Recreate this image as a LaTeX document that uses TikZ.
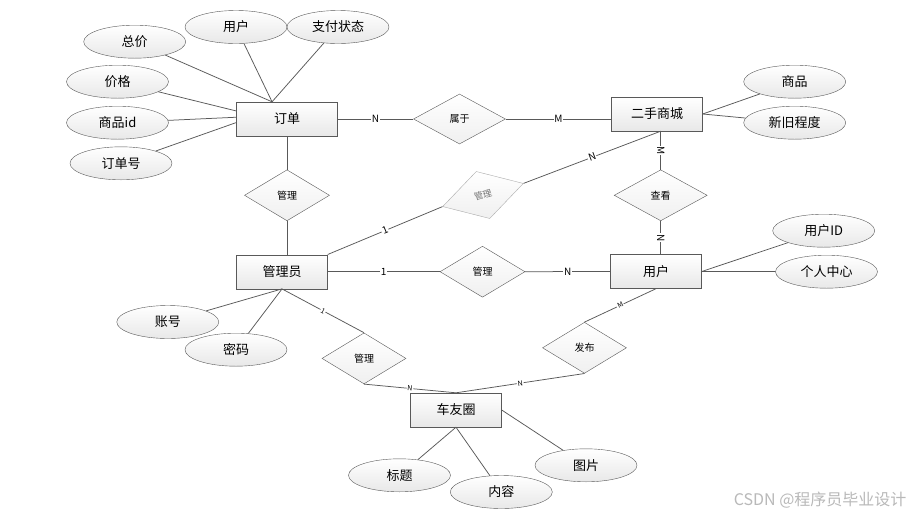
\documentclass[tikz,border=0pt]{standalone}
\usepackage{fontspec}
\setmainfont{Noto Sans CJK SC}
\usetikzlibrary{shapes.geometric}

\begin{document}
\begin{tikzpicture}[x=1pt, y=-1pt,
  entity/.style={draw=black!65, top color=white, bottom color=gray!18, minimum width=91pt, minimum height=34pt, inner sep=0pt, font=\fontsize{13}{15}\selectfont},
  attr/.style={ellipse, draw=black!65, top color=white, bottom color=gray!18, minimum width=102pt, minimum height=33pt, inner sep=0pt, font=\fontsize{13}{15}\selectfont},
  rel/.style={diamond, draw=black!65, top color=white, bottom color=gray!12, minimum width=85pt, minimum height=51pt, inner sep=0pt, font=\fontsize{10}{12}\selectfont},
  link/.style={draw=black!65, line width=0.75pt},
  card/.style={fill=white, inner sep=0.8pt, font=\fontsize{10}{12}\selectfont},
  scard/.style={card, font=\fontsize{7}{8}\selectfont},
]
\useasboundingbox[fill=white] (0,0) rectangle (914,515);

\node[entity, minimum width=101pt] (dd) at (287,119) {订单};
\node[entity] (es) at (657,114) {二手商城};
\node[entity] (yh) at (656,271.5) {用户};
\node[entity] (gly) at (282,271.7) {管理员};
\node[entity] (cyq) at (456,410) {车友圈};

\node[rel] (gl1) at (287,195.3) {管理};
\node[rel, minimum width=92pt, minimum height=50pt] (sy) at (459.5,119) {属于};
\node[rel, rotate=16, draw=gray!65, top color=white, bottom color=gray!12, text=black!55, minimum width=84pt, minimum height=49pt, font=\fontsize{9}{10}\selectfont] (gm) at (483,195) {管理};
\node[rel, minimum width=93pt] (ck) at (660.7,195.3) {查看};
\node[rel] (gm2) at (482.5,271.7) {管理};
\node[rel, minimum width=84pt] (gl3) at (364,358.4) {管理};
\node[rel, minimum width=84pt] (fb) at (584.5,347.8) {发布};

\node[attr] (zj) at (134.7,41.7) {总价};
\node[attr] (yhs) at (236,27) {用户};
\node[attr] (zfzt) at (338,27) {支付状态};
\node[attr] (jg) at (117.5,81.7) {价格};
\node[attr] (spid) at (117.5,122.7) {商品id};
\node[attr] (ddh) at (121,163.3) {订单号};
\node[attr] (sp) at (794.7,81.7) {商品};
\node[attr] (xjcd) at (794.7,122.7) {新旧程度};
\node[attr] (yhid) at (823.7,230.7) {用户ID};
\node[attr] (grzx) at (826.5,271.7) {个人中心};
\node[attr] (zh) at (167.8,322) {账号};
\node[attr] (mm) at (236,349.7) {密码};
\node[attr] (bt) at (399.5,475.3) {标题};
\node[attr] (nr) at (501.3,492) {内容};
\node[attr] (tp) at (586,465.3) {图片};

\draw[link] (zj) -- (dd.131);
\draw[link] (yhs) -- (dd.131);
\draw[link] (zfzt) -- (dd.131);
\draw[link] (jg) -- (dd.171);
\draw[link] (spid) -- (dd.178);
\draw[link] (ddh) -- (dd.184);
\draw[link] (es.east) -- (sp);
\draw[link] (es.east) -- (xjcd);
\draw[link] (yh.east) -- (yhid);
\draw[link] (yh.east) -- (grzx);
\draw[link] (gly.south) -- (zh);
\draw[link] (gly.south) -- (mm);
\draw[link] (cyq.south) -- (bt);
\draw[link] (cyq.south) -- (nr);
\draw[link] (cyq.east) -- (tp);

\draw[link] (dd) -- (gl1);
\draw[link] (gl1.south) -- (gl1.south |- gly.north);
\draw[link] (dd.east |- sy.west) -- node[card] {N} (sy.west);
\draw[link] (sy.east) -- node[card] {M} (sy.east -| es.west);
\draw[link] (ck.north |- es.south) -- node[card, rotate=-90] {M} (ck.north);
\draw[link] (ck.south) -- node[card, rotate=-90] {N} (ck.south |- yh.north);
\draw[link] (ck.north |- es.south) -- node[card, sloped] {N} (gm.east);
\draw[link] (gm.west) -- node[card, sloped] {1} (gly.north east);
\draw[link] (gly) -- node[card] {1} (gm2);
\draw[link] (gm2) -- node[card] {N} (yh);
\draw[link] (gly.south) -- node[scard, sloped] {1} (gl3.north);
\draw[link] (gl3.south) -- node[scard, sloped] {N} (cyq.north);
\draw[link] (fb.south) -- node[scard, sloped] {N} (cyq.north);
\draw[link] (fb.north) -- node[scard, sloped] {M} (yh.south);

\node[font=\fontsize{16}{18}\selectfont, text=gray!55, anchor=east] (wm) at (910,500) {CSDN @程序员毕业设计};
\end{tikzpicture}
\end{document}
